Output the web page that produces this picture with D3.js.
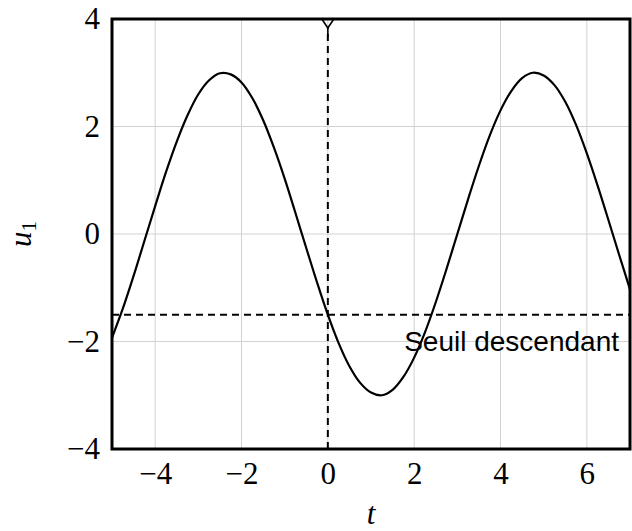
<!DOCTYPE html>
<html>
<head>
<meta charset="utf-8">
<script src="https://cdn.jsdelivr.net/npm/d3@7"></script>
<style>
  html, body { margin: 0; padding: 0; background: #fff; }
  svg { display: block; }
</style>
</head>
<body>
<svg id="chart" width="632" height="531"></svg>
<script>
// Sampled signal u1(t)
const tValues = [-5, -4.75, -4.5, -4.25, -4, -3.75, -3.5, -3.25, -3, -2.75, -2.5, -2.25,
  -2, -1.75, -1.5, -1.25, -1, -0.75, -0.5, -0.25, 0, 0.25, 0.5, 0.75, 1, 1.25, 1.5, 1.75,
  2, 2.25, 2.5, 2.75, 3, 3.25, 3.5, 3.75, 4, 4.25, 4.5, 4.75, 5, 5.25, 5.5, 5.75, 6, 6.25,
  6.5, 6.75, 7];
const uValues = [-1.93, -1.39, -0.78, -0.13, 0.52, 1.15, 1.72, 2.21, 2.60, 2.86, 2.99, 2.97,
  2.82, 2.53, 2.12, 1.61, 1.03, 0.39, -0.26, -0.90, -1.50, -2.03, -2.46, -2.77, -2.95, -3.00,
  -2.90, -2.66, -2.30, -1.83, -1.27, -0.65, 0.00, 0.65, 1.27, 1.83, 2.30, 2.66, 2.90, 3.00,
  2.95, 2.77, 2.46, 2.03, 1.50, 0.90, 0.26, -0.39, -1.03];

// Axes
const xDomain = [-5, 7];
const yDomain = [-4, 4];
const xTicks = [-4, -2, 0, 2, 4, 6];
const yTicks = [-4, -2, 0, 2, 4];

// Annotations
const threshold = -1.5;
const thresholdLabel = "Seuil descendant";
const triggerTime = 0;
const xLabel = "t";
const yLabel = "u";
const yLabelSub = "1";

const svg = d3.select("#chart");
const plotLeft = 112, plotRight = 630, plotTop = 19, plotBottom = 449;

const x = d3.scaleLinear().domain(xDomain).range([plotLeft, plotRight]);
const y = d3.scaleLinear().domain(yDomain).range([plotBottom, plotTop]);

const fmt = d => d < 0 ? "\u2212" + Math.abs(d) : String(d);
const serif = "'Liberation Serif', 'DejaVu Serif', serif";

// Grid
const grid = svg.append("g").attr("stroke", "#d2d2d2").attr("stroke-width", 1);
grid.selectAll("line.vx").data(xTicks).join("line")
  .attr("x1", d => x(d)).attr("x2", d => x(d))
  .attr("y1", plotTop).attr("y2", plotBottom);
grid.selectAll("line.hy").data(yTicks.filter(d => d > yDomain[0] && d < yDomain[1])).join("line")
  .attr("x1", plotLeft).attr("x2", plotRight)
  .attr("y1", d => y(d)).attr("y2", d => y(d));

// Clip for plot content
svg.append("clipPath").attr("id", "plot-clip")
  .append("rect").attr("x", plotLeft).attr("y", plotTop)
  .attr("width", plotRight - plotLeft).attr("height", plotBottom - plotTop);

const plot = svg.append("g").attr("clip-path", "url(#plot-clip)");

// Signal curve
const line = d3.line()
  .x((d, i) => x(tValues[i]))
  .y(d => y(d))
  .curve(d3.curveCatmullRom.alpha(0.5));
plot.append("path")
  .datum(uValues)
  .attr("fill", "none")
  .attr("stroke", "#000")
  .attr("stroke-width", 2.2)
  .attr("d", line);

// Threshold line
plot.append("line")
  .attr("x1", x(xDomain[0])).attr("x2", x(xDomain[1]))
  .attr("y1", y(threshold)).attr("y2", y(threshold))
  .attr("stroke", "#000").attr("stroke-width", 2)
  .attr("stroke-dasharray", "7,5");

// Vertical marker at the trigger time
const tx = x(triggerTime), ty = y(yDomain[1]);
plot.append("line")
  .attr("x1", tx).attr("x2", tx)
  .attr("y1", y(yDomain[0])).attr("y2", ty + 9)
  .attr("stroke", "#000").attr("stroke-width", 2)
  .attr("stroke-dasharray", "7,5");
plot.append("path")
  .attr("d", `M${tx - 6},${ty} L${tx},${ty + 9} L${tx + 6},${ty} M${tx},${ty + 9} L${tx},${ty + 18}`)
  .attr("fill", "none").attr("stroke", "#000").attr("stroke-width", 1.6);

// Threshold label
svg.append("text")
  .attr("x", 619).attr("y", y(threshold) + 36)
  .attr("text-anchor", "end")
  .attr("font-family", "'Liberation Sans', 'DejaVu Sans', sans-serif")
  .attr("font-size", 28)
  .attr("fill", "#000")
  .text(thresholdLabel);

// Frame
svg.append("rect")
  .attr("x", plotLeft).attr("y", plotTop)
  .attr("width", plotRight - plotLeft).attr("height", plotBottom - plotTop)
  .attr("fill", "none").attr("stroke", "#000").attr("stroke-width", 3);

// Axis tick labels
const xAxis = d3.axisBottom(x).tickValues(xTicks).tickFormat(fmt).tickSize(0).tickPadding(13);
const gx = svg.append("g").attr("transform", `translate(0,${plotBottom})`).call(xAxis);
gx.select(".domain").remove();
gx.selectAll("text").attr("font-family", serif).attr("font-size", 31).attr("fill", "#000");

const yAxis = d3.axisLeft(y).tickValues(yTicks).tickFormat(fmt).tickSize(0).tickPadding(12);
const gy = svg.append("g").attr("transform", `translate(${plotLeft},0)`).call(yAxis);
gy.select(".domain").remove();
gy.selectAll("text").attr("font-family", serif).attr("font-size", 31).attr("fill", "#000");

// Axis titles
svg.append("text")
  .attr("x", (plotLeft + plotRight) / 2).attr("y", 524)
  .attr("text-anchor", "middle")
  .attr("font-family", serif).attr("font-style", "italic").attr("font-size", 31)
  .text(xLabel);

const yt = svg.append("text")
  .attr("transform", `translate(31,${(plotTop + plotBottom) / 2}) rotate(-90)`)
  .attr("text-anchor", "middle")
  .attr("font-family", serif).attr("font-size", 31);
yt.append("tspan").attr("font-style", "italic").text(yLabel);
yt.append("tspan").attr("font-size", 21).attr("dy", 5).text(yLabelSub);
</script>
</body>
</html>
